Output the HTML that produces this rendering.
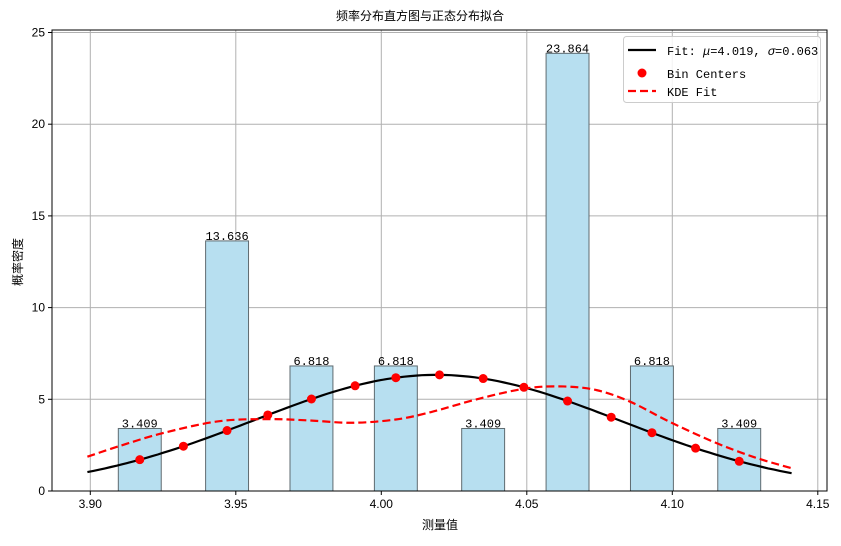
<!DOCTYPE html>
<html><head><meta charset="utf-8"><style>
body{margin:0;background:#fff}
svg text{font-family:"Liberation Sans","Noto Sans CJK SC",sans-serif;}
.m{font-family:"Liberation Mono","Noto Sans CJK SC",monospace}
</style></head><body>
<svg id="c" width="841" height="541"></svg>
<script>
const binCenters=[3.917,3.932,3.947,3.961,3.976,3.991,4.005,4.020,4.035,4.049,4.064,4.079,4.093,4.108,4.123];
const binHeights=[3.409,0,13.636,0,6.818,0,6.818,0,3.409,0,23.864,0,6.818,0,3.409];
const kdeX=[3.899,3.91,3.925,3.944,3.961,3.975,3.99,4.005,4.017,4.034,4.05,4.0625,4.074,4.0855,4.099,4.114,4.128,4.141];
const kdeY=[1.87,2.45,3.16,3.8,3.92,3.85,3.72,3.9,4.3,5.05,5.6,5.7,5.5,4.87,3.78,2.69,1.85,1.24];
const xTicks=[3.90,3.95,4.00,4.05,4.10,4.15];
const yTicks=[0,5,10,15,20,25];
const mu=4.019, sigma=0.063, binW=0.01475;
const NS='http://www.w3.org/2000/svg', svg=document.getElementById('c');
const L=52,R=827,T=30,B=491;
const X=v=>90.3+(v-3.90)*2910, Y=v=>B-v*18.34;
function el(t,a,p){const e=document.createElementNS(NS,t);for(const k in a)e.setAttribute(k,a[k]);(p||svg).appendChild(e);return e;}
function txt(x,y,s,a){const e=el('text',Object.assign({x:x,y:y,'font-size':12,fill:'#000'},a||{}));e.textContent=s;return e;}
// grid
xTicks.forEach(t=>{const g=el('line',{x1:X(t),x2:X(t),y1:T,y2:B,stroke:'#b0b0b0','stroke-width':1});

});
yTicks.forEach(t=>{const g=el('line',{x1:L,x2:R,y1:Y(t),y2:Y(t),stroke:'#b0b0b0','stroke-width':1});

});
// bars
binCenters.forEach((c,i)=>{const h=binHeights[i];if(h<=0)return;
const r=el('rect',{x:X(c-binW/2),y:Y(h),width:binW*2910,height:B-Y(h),fill:'#b7dff0',stroke:'#5f6b70','stroke-width':1});


const t=txt(X(c),Y(h)-1,h.toFixed(3),{'text-anchor':'middle','class':'m'});

});
// normal curve
const pdf=x=>Math.exp(-0.5*((x-mu)/sigma)**2)/(sigma*Math.sqrt(2*Math.PI));
let d='';for(let i=0;i<=120;i++){const x=3.899+(4.141-3.899)*i/120;d+=(i?'L':'M')+X(x).toFixed(1)+','+Y(pdf(x)).toFixed(1);}
const nc=el('path',{d:d,fill:'none',stroke:'#000','stroke-width':2.2});


// kde smooth
const pts=kdeX.map((x,i)=>[X(x),Y(kdeY[i])]);
let kd='M'+pts[0].join(',');
for(let i=0;i<pts.length-1;i++){const p0=pts[Math.max(0,i-1)],p1=pts[i],p2=pts[i+1],p3=pts[Math.min(pts.length-1,i+2)];
kd+=`C${p1[0]+(p2[0]-p0[0])/6},${p1[1]+(p2[1]-p0[1])/6} ${p2[0]-(p3[0]-p1[0])/6},${p2[1]-(p3[1]-p1[1])/6} ${p2[0]},${p2[1]}`;}
const kc=el('path',{d:kd,fill:'none',stroke:'#f00','stroke-width':2.2,'stroke-dasharray':'8,4'});


// dots
binCenters.forEach(c=>{const p=el('circle',{cx:X(c),cy:Y(pdf(c)),r:4.5,fill:'#f00'});

});
// axes box
const bx=el('rect',{x:L,y:T,width:R-L,height:B-T,fill:'none',stroke:'#000','stroke-width':1});


xTicks.forEach(t=>{el('line',{x1:X(t),x2:X(t),y1:B,y2:B+4,stroke:'#000'});
const l=txt(X(t),B+17,t.toFixed(2),{'text-anchor':'middle'});

});
yTicks.forEach(t=>{el('line',{x1:L-4,x2:L,y1:Y(t),y2:Y(t),stroke:'#000'});
const l=txt(L-7,Y(t)+4,String(t),{'text-anchor':'end'});

});
</script>
<svg width="841" height="541" style="position:absolute;left:0;top:0">
<text x="420" y="20" font-size="12" text-anchor="middle">频率分布直方图与正态分布拟合</text>
<text x="440" y="529" font-size="12" text-anchor="middle">测量值</text>
<text x="22" y="262" font-size="12" text-anchor="middle" transform="rotate(-90 22 262)">概率密度</text>
<g>
<rect x="623.5" y="36.5" width="197" height="66" rx="3" fill="#fff" fill-opacity="0.85" stroke="#ccc"/>
<line x1="628" y1="50" x2="656" y2="50" stroke="#000" stroke-width="2.2"/>
<text class="m" x="667" y="55" font-size="12">Fit: <tspan font-style="italic">μ</tspan>=4.019, <tspan font-style="italic">σ</tspan>=0.063</text>
<circle cx="642" cy="73" r="4.5" fill="#f00"/>
<text class="m" x="667" y="78" font-size="12">Bin Centers</text>
<line x1="628" y1="91" x2="656" y2="91" stroke="#f00" stroke-width="2.2" stroke-dasharray="8,4"/>
<text class="m" x="667" y="96" font-size="12">KDE Fit</text>
</g>
</svg>
</body></html>
